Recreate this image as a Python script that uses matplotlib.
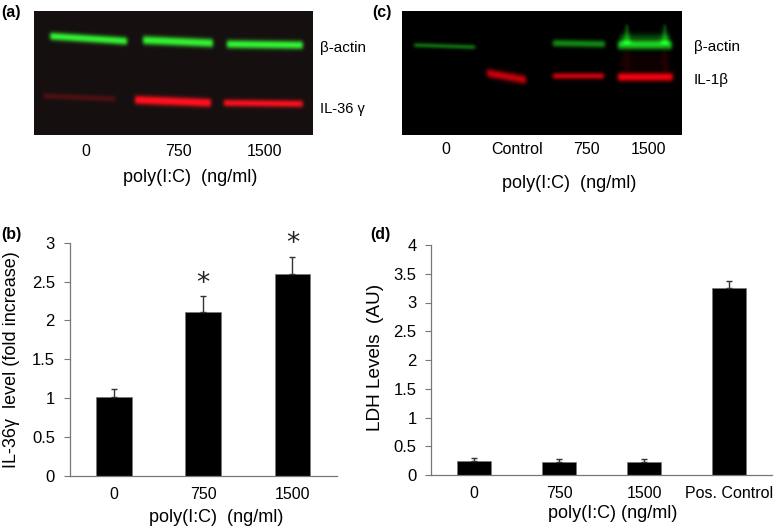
import numpy as np
from matplotlib import pyplot as plt

plt.rcParams['font.family'] = ['Liberation Sans', 'DejaVu Sans']

W, H = 777, 529

# blot a: left, right, y at left, y at right, half thickness, brightness
a_green = [(50, 127, 36, 41, 3.8, 1.0), (143, 213, 40, 43, 4.2, 1.0), (227, 303, 44, 45, 4.0, 1.0)]
a_red = [(43, 115, 96, 99, 2.8, 0.24), (135, 211, 100, 103, 4.2, 1.0), (224, 303, 103, 104, 3.4, 0.95)]

# blot c
c_green = [(414, 475, 45, 47, 2.0, 0.55), (553, 605, 43, 44, 3.4, 0.6), (618, 672, 45, 45, 4.2, 0.8)]
c_red = [(487, 526, 73, 80, 4.2, 0.8), (553, 604, 76, 76, 3.0, 0.85), (618, 673, 77, 77, 4.0, 1.0)]
c_green_halo = [(620, 670, 39, 39, 5.5, 0.3)]
c_red_halo = [(620, 670, 62, 62, 9.0, 0.06)]
c_spikes = [(627, 24, 44), (665, 24, 44)]

a_box = (34, 313, 11, 135)
c_box = (402, 682, 11, 135)

a_lanes = ['0', '750', '1500']
a_lane_x = [86, 178, 265]
c_lanes = ['0', 'Control', '750', '1500']
c_lane_x = [446, 517, 586, 649]

b_cats = ['0', '750', '1500']
b_vals = [1.01, 2.11, 2.6]
b_errs = [0.10, 0.20, 0.22]
b_ticks = [0, 0.5, 1, 1.5, 2, 2.5, 3]

d_cats = ['0', '750', '1500', 'Pos. Control']
d_vals = [0.24, 0.23, 0.22, 3.26]
d_errs = [0.06, 0.04, 0.05, 0.12]
d_ticks = [0, 0.5, 1, 1.5, 2, 2.5, 3, 3.5, 4]


def add_band(chan, xx, yy, band):
    x0, x1, y0, y1, th, amp = band
    yc = y0 + (y1 - y0) * (xx - x0) / (x1 - x0)
    across = np.exp(-np.abs((yy - yc) / th) ** 2.6)
    along = np.clip((xx - x0 + 2) / 4, 0, 1) * np.clip((x1 - xx + 2) / 4, 0, 1)
    chan += amp * across * along


def soften(img, sigma=2.4):
    # sigma is in cells of the 0.5 px grid
    k = np.exp(-0.5 * (np.arange(-8, 9) / sigma) ** 2)
    k = k / k.sum()
    img = np.apply_along_axis(lambda v: np.convolve(v, k, mode='same'), 0, img)
    return np.apply_along_axis(lambda v: np.convolve(v, k, mode='same'), 1, img)


def blot(box, bg, green, red, green_halo=(), red_halo=(), spikes=()):
    x0, x1, y0, y1 = box
    xx, yy = np.meshgrid(np.arange(x0, x1 + 0.5, 0.5), np.arange(y0, y1 + 0.5, 0.5))
    g = np.zeros_like(xx)
    r = np.zeros_like(xx)
    for b in list(green) + list(green_halo):
        add_band(g, xx, yy, b)
    for b in list(red) + list(red_halo):
        add_band(r, xx, yy, b)
    for sx, top, bot in spikes:
        frac = np.clip((yy - top) / (bot - top), 0, 1)
        inside = (yy > top) & (yy < bot)
        g += 0.42 * np.exp(-((xx - sx) / (0.8 + 3.5 * frac)) ** 2) * inside
        r += 0.09 * np.exp(-((xx - sx) / 3.0) ** 2) * (yy > 50) * (yy < 72)
    g = soften(g)
    r = soften(r)
    rgb = np.dstack([bg[0] + r + 0.12 * g, bg[1] + 0.93 * g, bg[2] + 0.14 * g + 0.06 * r])
    return np.clip(rgb, 0, 1)


def to_fig(x0, x1, y0, y1):
    return [x0 / W, 1 - y1 / H, (x1 - x0) / W, (y1 - y0) / H]


def panel_text(x, y, s, **kw):
    fig.text(x / W, 1 - y / H, s, va='center', **kw)


def bar_panel(rect, cats, vals, errs, ticks, ymax, xlim):
    ax = fig.add_axes(to_fig(*rect))
    pos = np.arange(len(cats))
    ax.bar(pos, vals, width=xlim[2], color='black', edgecolor='#777777', linewidth=0.5)
    ax.errorbar(pos, vals, yerr=[np.zeros(len(errs)), errs], fmt='none', ecolor='#333333',
                elinewidth=1, capsize=2, capthick=1)
    ax.set_xlim(xlim[0], xlim[1])
    ax.set_ylim(0, ymax)
    ax.set_yticks(ticks)
    ax.set_yticklabels(['%g' % t for t in ticks], fontsize=12)
    ax.set_xticks(pos)
    ax.set_xticklabels(cats, fontsize=11.5)
    ax.tick_params(axis='x', length=0, pad=8)
    ax.tick_params(axis='y', length=4, width=0.8, color='#777777', pad=6.5)
    for s in ['top', 'right']:
        ax.spines[s].set_visible(False)
    for s in ['left', 'bottom']:
        ax.spines[s].set_color('#777777')
        ax.spines[s].set_linewidth(0.9)
    return ax


fig = plt.figure(figsize=(W / 100, H / 100), dpi=100)

ax_a = fig.add_axes(to_fig(a_box[0], a_box[1], a_box[2], a_box[3]))
ax_a.imshow(blot(a_box, (0.085, 0.06, 0.06), a_green, a_red), aspect='auto', interpolation='bilinear')
ax_a.axis('off')

ax_c = fig.add_axes(to_fig(c_box[0], c_box[1], c_box[2], c_box[3]))
ax_c.imshow(blot(c_box, (0, 0, 0), c_green, c_red, c_green_halo, c_red_halo, c_spikes),
            aspect='auto', interpolation='bilinear')
ax_c.axis('off')

for x, s in zip(a_lane_x, a_lanes):
    panel_text(x, 151, s, ha='center', fontsize=11.5)
for x, s in zip(c_lane_x, c_lanes):
    panel_text(x, 150, s, ha='center', fontsize=11.5)
panel_text(190, 178, 'poly(I:C)  (ng/ml)', ha='center', fontsize=13)
panel_text(569, 184, 'poly(I:C)  (ng/ml)', ha='center', fontsize=13)

panel_text(320, 48, 'β-actin', fontsize=11)
panel_text(320, 109, 'IL-36 γ', fontsize=10.5)
panel_text(694, 47, 'β-actin', fontsize=11)
panel_text(694, 80, 'IL-1β', fontsize=11)

for x, y, s in [(1, 12, '(a)'), (372, 12, '(c)'), (1, 234, '(b)'), (370, 234, '(d)')]:
    panel_text(x, y, s, fontsize=11.5, fontweight='bold')

ax_b = bar_panel((69.5, 337, 242.7, 475.7), b_cats, b_vals, b_errs, b_ticks, 3, (-0.5, 2.5, 0.4))
ax_d = bar_panel((431.3, 772, 245, 475), d_cats, d_vals, d_errs, d_ticks, 4, (-0.5, 3.5, 0.4))

# asterisks sit just above the error bars
for i in [1, 2]:
    ax_b.text(i, b_vals[i] + b_errs[i] - 0.01, '*', ha='center', va='bottom', fontsize=19,
              family='DejaVu Sans', linespacing=0.1, color='#222222')

panel_text(12, 360, 'IL-36γ  level (fold increase)', rotation=90, ha='center', fontsize=13)
panel_text(376, 357, 'LDH Levels  (AU)', rotation=90, ha='center', fontsize=13.7)
panel_text(216, 518, 'poly(I:C)  (ng/ml)', ha='center', fontsize=13)
panel_text(613, 514, 'poly(I:C) (ng/ml)', ha='center', fontsize=13)

fig.savefig('out.png', dpi=100)
